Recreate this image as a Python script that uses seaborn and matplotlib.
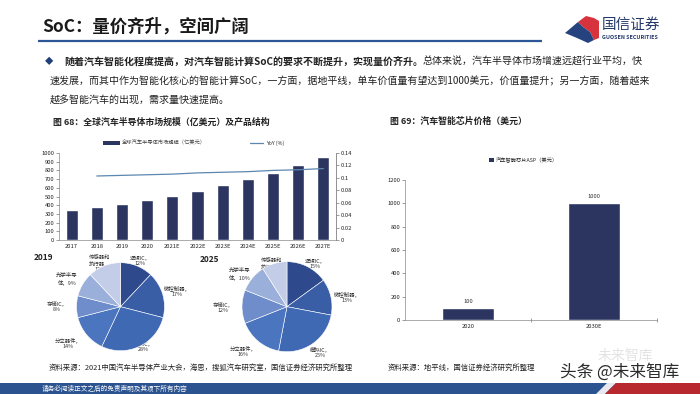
import numpy as np
import pandas as pd
import matplotlib
matplotlib.use('Agg')
import matplotlib.pyplot as plt
from matplotlib.patches import Patch, Polygon, Rectangle
from matplotlib.lines import Line2D
import seaborn as sns

# ---------------- data ----------------
years = ['2017', '2018', '2019', '2020', '2021E', '2022E', '2023E', '2024E', '2025E', '2026E', '2027E']
market_size = [346, 381, 419, 465, 511, 565, 627, 696, 773, 862, 958]
yoy_years = ['2018', '2019', '2020', '2021E', '2022E', '2023E', '2024E', '2025E', '2026E', '2027E']
yoy = [0.103, 0.104, 0.105, 0.106, 0.108, 0.109, 0.110, 0.112, 0.113, 0.115]
yoy_ticks = [0, 0.02, 0.04, 0.06, 0.08, 0.1, 0.12, 0.14]

segments = ['逻辑IC', '微控制器', '模拟IC', '分立器件', '存储IC', '光学半导体', '传感器和执行器']
seg_label_head = ['逻辑IC，\n', '微控制器，\n', '模拟IC，\n', '分立器件，\n', '存储IC，\n', '光学半导\n体，', '传感器和\n执行器，\n']
share_2019 = [12, 17, 28, 14, 8, 9, 12]
share_2025 = [15, 13, 25, 16, 12, 10, 9]

asp_years = ['2020', '2030E']
asp_values = [100, 1000]

# ---------------- style ----------------
sns.set_theme(style='white')
plt.rcParams['font.family'] = ['Noto Sans CJK SC', 'DejaVu Sans']
plt.rcParams['axes.unicode_minus'] = False

W, H = 700, 394
fig = plt.figure(figsize=(W / 100, H / 100), dpi=100)
fig.patch.set_facecolor('white')

NAVY = '#2B3560'
LINE = '#5B87B0'
TXT = '#222222'
pie_colors = ['#2E4A8C', '#3A5EA6', '#4069B4', '#4B75BF', '#6F8DCA', '#9BAFDB', '#C3CDE8']


def A(x0, y0, x1, y1):
    return fig.add_axes([x0 / W, 1 - y1 / H, (x1 - x0) / W, (y1 - y0) / H])


# background layer in pixel coordinates
bg = fig.add_axes([0, 0, 1, 1])
bg.set_xlim(0, W)
bg.set_ylim(H, 0)
bg.axis('off')

# header
bg.text(42, 27, 'SoC：量价齐升，空间广阔', fontsize=12.5, fontweight='bold', va='center', ha='left', color='#1a1a1a')
bg.plot([38, 542], [40.5, 40.5], color='#2B5797', lw=1.6, solid_capstyle='butt')
red_shape = [(578, 22), (586, 16), (594, 18), (599, 21), (599, 38), (594, 40), (590, 32), (583, 27)]
blue_shape = [(565, 33), (578, 22), (583, 27), (590, 32), (594, 40), (588, 43), (577, 38)]
bg.add_patch(Polygon(red_shape, closed=True, facecolor='#D7333C', edgecolor='none'))
bg.add_patch(Polygon(blue_shape, closed=True, facecolor='#24437F', edgecolor='none'))
bg.text(602, 25, '国信证券', fontsize=10.5, va='center', ha='left', color='#24396B')
bg.text(602, 37.5, 'GUOSEN SECURITIES', fontsize=3.9, fontweight='bold', va='center', ha='left', color='#24396B')

# paragraph
renderer = fig.canvas.get_renderer()
bg.text(49, 62, '◆', fontsize=6, va='center', ha='center', color='#1F3E7A')
t1 = bg.text(64, 62, '随着汽车智能化程度提高，对汽车智能计算SoC的要求不断提升，实现量价齐升。',
             fontsize=7.2, fontweight='bold', va='center', ha='left', color=TXT)
ext = t1.get_window_extent(renderer=renderer)
bg.text(ext.x1, 62, '总体来说，汽车半导体市场增速远超行业平均，快',
        fontsize=7.2, va='center', ha='left', color=TXT)
bg.text(50, 81, '速发展，而其中作为智能化核心的智能计算SoC，一方面，据地平线，单车价值量有望达到1000美元，价值量提升；另一方面，随着越来',
        fontsize=7.2, va='center', ha='left', color=TXT)
bg.text(50, 100, '越多智能汽车的出现，需求量快速提高。', fontsize=7.2, va='center', ha='left', color=TXT)

# figure titles
bg.text(53, 122, '图 68：全球汽车半导体市场规模（亿美元）及产品结构', fontsize=6.4, fontweight='bold',
        va='center', ha='left', color=TXT)
bg.text(390, 121, '图 69：汽车智能芯片价格（美元）', fontsize=6.4, fontweight='bold',
        va='center', ha='left', color=TXT)

# sources
bg.text(49, 368, '资料来源：2021中国汽车半导体产业大会，海思，搜狐汽车研究室，国信证券经济研究所整理',
        fontsize=5.3, va='center', ha='left', color=TXT)
bg.text(388, 368, '资料来源：地平线，国信证券经济研究所整理', fontsize=5.3, va='center', ha='left', color=TXT)

# footer band
bg.add_patch(Rectangle((0, 383), W, 11, facecolor='#2B5390', edgecolor='none'))
bg.add_patch(Polygon([(596, 394), (607, 383), (616, 383), (605, 394)], closed=True, facecolor='#E8E8EE', edgecolor='none'))
bg.add_patch(Polygon([(605, 394), (616, 383), (700, 383), (700, 394)], closed=True, facecolor='#B8282F', edgecolor='none'))
bg.text(42, 388.5, '请务必阅读正文之后的免责声明及其项下所有内容', fontsize=4.8, va='center', ha='left', color='white')

# watermark
bg.text(625, 356, '未来智库', fontsize=10, va='center', ha='center', color='#DDDDDD', alpha=0.8)
bg.text(560, 372, '头条 @未来智库', fontsize=12, va='center', ha='left', color='#2a2a2a')

# ---------------- chart 68: bars + YoY ----------------
ax1 = A(59, 153, 336, 240)
df = pd.DataFrame({'year': years, 'size': market_size})
sns.barplot(data=df, x='year', y='size', color=NAVY, saturation=1, width=0.48, ax=ax1)
ax1.set_xlim(-0.5, len(years) - 0.5)
ax1.set_ylim(0, 1000)
ax1.set_yticks(range(0, 1001, 100))
ax1.set_xlabel('')
ax1.set_ylabel('')
ax1.tick_params(axis='y', labelsize=4.2, length=2, width=0.4, colors='#555', labelcolor=TXT, pad=1.5, left=True)
ax1.tick_params(axis='x', labelsize=4.2, length=0, labelcolor=TXT, pad=3)
ax1.set_facecolor('none')
for s in ['left', 'bottom', 'right']:
    ax1.spines[s].set_color('#8a8a8a')
    ax1.spines[s].set_linewidth(0.5)
ax1.spines['top'].set_visible(False)

ax2 = ax1.twinx()
xpos = [years.index(y) for y in yoy_years]
sns.lineplot(x=xpos, y=yoy, ax=ax2, color=LINE, lw=0.9)
ax2.set_ylim(0, 0.14)
ax2.set_yticks(yoy_ticks)
ax2.set_yticklabels([f'{v:g}' for v in yoy_ticks])
ax2.tick_params(axis='y', labelsize=4.2, length=2, width=0.4, colors='#555', labelcolor=TXT, pad=1.5, right=True)
for s in ['top', 'left', 'bottom']:
    ax2.spines[s].set_visible(False)
ax2.spines['right'].set_color('#8a8a8a')
ax2.spines['right'].set_linewidth(0.5)
ax2.set_ylabel('')

leg1 = ax1.legend(handles=[Patch(facecolor=NAVY, edgecolor='none', label='全球汽车半导体市场规模（亿美元）')],
                  loc='center left', bbox_to_anchor=(103 / W, 1 - 143 / H), bbox_transform=fig.transFigure,
                  frameon=False, fontsize=3.8, handlelength=3.2, handleheight=0.8, handletextpad=0.4,
                  borderpad=0, borderaxespad=0)
for t in leg1.get_texts():
    t.set_color('#444')
ax2.legend(handles=[Line2D([], [], color=LINE, lw=0.9, label='YoY (%)')],
           loc='center left', bbox_to_anchor=(250 / W, 1 - 143 / H), bbox_transform=fig.transFigure,
           frameon=False, fontsize=3.8, handlelength=2.5, handletextpad=0.6, borderpad=0, borderaxespad=0)

# ---------------- pies ----------------
def draw_pie(cx, cy, r, shares, label_pos, year_label, year_xy):
    ax = A(cx - r, cy - r, cx + r, cy + r)
    ax.pie(shares, colors=pie_colors, startangle=90, counterclock=False,
           wedgeprops=dict(edgecolor='white', linewidth=0.4))
    ax.set_xlim(-1, 1)
    ax.set_ylim(-1, 1)
    ax.set_aspect('equal')
    ax.axis('off')
    for head, v, (lx, ly) in zip(seg_label_head, shares, label_pos):
        bg.text(lx, ly, f'{head}{v}%', fontsize=3.9, ha='center', va='center', color='#333',
                linespacing=1.15, zorder=5)
    bg.text(year_xy[0], year_xy[1], year_label, fontsize=6, fontweight='bold', ha='left', va='center', color=TXT)


pos_2019 = [(140, 261), (177, 291), (143, 346), (68, 343), (57, 306), (67, 279), (100, 263)]
pos_2025 = [(315, 264), (347, 297), (320, 352), (243, 351), (223, 307), (240, 274), (272, 266)]
draw_pie(120.5, 306.7, 44, share_2019, pos_2019, '2019', (34, 257))
draw_pie(287, 306.7, 45, share_2025, pos_2025, '2025', (200, 260))

# ---------------- chart 69: ASP bars ----------------
ax3 = A(405, 180, 657, 320)
df2 = pd.DataFrame({'year': asp_years, 'asp': asp_values})
sns.barplot(data=df2, x='year', y='asp', color=NAVY, saturation=1, width=0.41, ax=ax3)
ax3.set_xlim(-0.5, 1.5)
ax3.set_ylim(0, 1200)
ax3.set_yticks(range(0, 1201, 200))
ax3.set_xlabel('')
ax3.set_ylabel('')
ax3.bar_label(ax3.containers[0], fmt='%g', padding=3, fontsize=4.2, color='#333')
ax3.tick_params(axis='y', labelsize=4.2, length=2, width=0.4, colors='#555', labelcolor=TXT, pad=1.5, left=True)
ax3.tick_params(axis='x', labelsize=4.2, length=0, labelcolor=TXT, pad=3)
ax3.set_xticks([0.5, 1.5], minor=True)
ax3.tick_params(axis='x', which='minor', length=3, width=0.4, direction='inout', colors='#555', bottom=True)
ax3.set_facecolor('none')
for s in ['left', 'bottom']:
    ax3.spines[s].set_color('#8a8a8a')
    ax3.spines[s].set_linewidth(0.5)
for s in ['top', 'right']:
    ax3.spines[s].set_visible(False)
ax3.legend(handles=[Patch(facecolor=NAVY, edgecolor='none', label='汽车智能芯片ASP（美元）')],
           loc='center left', bbox_to_anchor=(489 / W, 1 - 160 / H), bbox_transform=fig.transFigure,
           frameon=False, fontsize=3.8, handlelength=0.9, handleheight=0.9, handletextpad=0.3,
           borderpad=0, borderaxespad=0)

fig.savefig('out.png', dpi=100)
